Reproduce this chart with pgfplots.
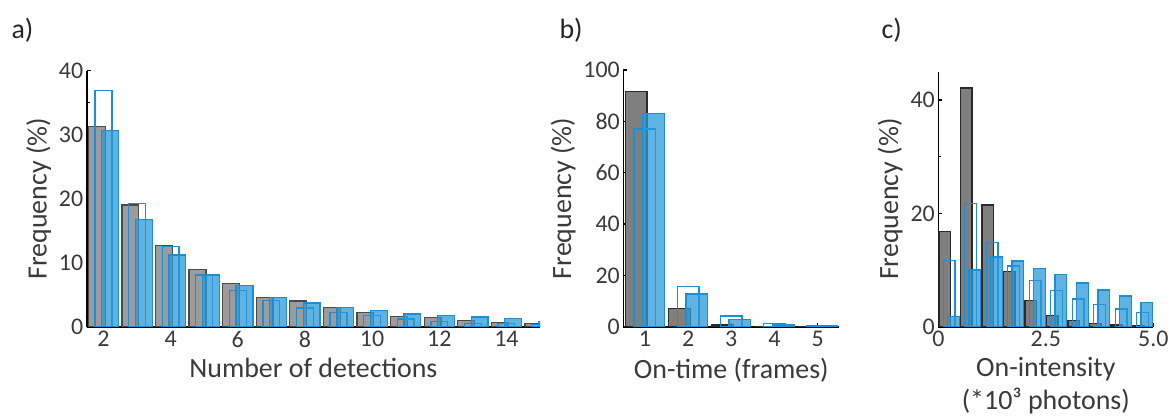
\documentclass[border=0pt]{standalone}
\usepackage{fontspec}
\setmainfont{Carlito}
\usepackage{pgfplots}
\usepackage{pgfplotstable}
\pgfplotsset{compat=1.18}

\definecolor{txt}{HTML}{3A3A3A}
\definecolor{grayA}{HTML}{9C9C9C}
\definecolor{grayB}{HTML}{7F7F7F}
\definecolor{edgeA}{HTML}{4A4A4A}
\definecolor{edgeB}{HTML}{2A2A2A}
\definecolor{blueE}{HTML}{1A8FD8}
\definecolor{blueF}{HTML}{2A9AD8}

% number of detections: gray, open blue, filled blue
\pgfplotstableread{
n  g     o     f
2  31.3  36.9  30.7
3  19.0  19.2  16.7
4  12.7  12.5  11.2
5  8.9   8.1   8.1
6  6.8   5.7   6.4
7  4.6   4.1   4.6
8  4.0   2.9   3.7
9  3.0   2.2   3.0
10 2.2   1.7   2.5
11 1.6   1.2   2.0
12 1.4   0.8   1.7
13 1.0   0.5   1.5
14 0.7   0.5   1.3
15 0.5   0.3   0.8
}\detections

% on-time in frames
\pgfplotstableread{
n  g     o     f
1  91.5  77.0  83.0
2  7.2   15.6  12.7
3  0.7   4.2   2.7
4  0.2   1.3   0.7
5  0.1   0.5   0.4
}\ontime

% on-intensity, bins of 500 photons
\pgfplotstableread{
n     g     o     f
0.25  16.8  11.7  1.8
0.75  42.1  21.8  10.0
1.25  21.5  14.8  12.3
1.75  9.8   10.7  11.6
2.25  4.6   8.2   10.3
2.75  2.0   6.35  9.2
3.25  1.1   4.9   7.7
3.75  0.6   3.9   6.5
4.25  0.3   3.1   5.4
4.75  0.2   2.5   4.3
}\intensity

\pgfplotsset{
  panel/.style={
    scale only axis, anchor=south west,
    axis lines=left, axis line style={-, line width=1.6bp, black},
    enlargelimits=false, clip=true, ymin=0,
    tick align=inside, major tick length=4bp, minor tick length=3bp,
    every tick/.style={black, line width=1.3bp},
    tick label style={font=\fontsize{24}{26}\selectfont, text=txt},
    xticklabel style={yshift=-1bp},
    label style={font=\fontsize{28}{33}\selectfont, text=txt},
    xlabel style={yshift=-4bp},
    ylabel style={yshift=1bp},
    /pgf/number format/assume math mode=true,
    ylabel={Frequency (\%)},
  },
  gbar/.style={ybar, bar shift=0pt, bar width=#1, fill=grayB, draw=edgeB, line width=1.3bp},
  obar/.style={ybar, bar shift=0pt, bar width=#1, fill=none, draw=blueE, line width=1.3bp},
  fbar/.style={ybar, bar shift=0pt, bar width=#1, fill=blueF, fill opacity=0.75, draw=blueE, draw opacity=1, line width=1.3bp},
}

\begin{document}
\begin{tikzpicture}
\path[use as bounding box] (0bp,0bp) rectangle (1171bp,416bp);

% a) number of detections
\begin{axis}[panel, at={(86.7bp,89.3bp)}, width=453.3bp, height=256bp,
  xmin=1.5, xmax=15, ymax=40,
  xtick={2,4,...,14}, ytick={0,10,...,40}, minor tick num=1,
  xlabel={Number of detections}]
  \addplot[gbar=0.5, fill=grayA, draw=edgeA] table[x expr=\thisrow{n}-0.2, y=g] {\detections};
  \addplot[obar=0.5] table[x=n, y=o] {\detections};
  \addplot[fbar=0.5] table[x expr=\thisrow{n}+0.2, y=f] {\detections};
\end{axis}

% b) on-time
\begin{axis}[panel, at={(623.3bp,89.3bp)}, width=216bp, height=256.7bp,
  xmin=0.5, xmax=5.5, ymax=100,
  xtick={1,...,5}, ytick={0,20,...,100},
  xlabel={On-time (frames)}]
  \addplot[gbar=0.5] table[x expr=\thisrow{n}-0.2, y=g] {\ontime};
  \addplot[obar=0.5] table[x=n, y=o] {\ontime};
  \addplot[fbar=0.5] table[x expr=\thisrow{n}+0.2, y=f] {\ontime};
\end{axis}

% c) on-intensity
\begin{axis}[panel, at={(938.3bp,89.3bp)}, width=215bp, height=255bp,
  xmin=0, xmax=5, ymax=45,
  xtick={0,2.5,5}, xticklabels={0,2.5,5.0},
  ytick={0,20,40}, minor ytick={10,30},
  xlabel={On-intensity\\(*10³ photons)}, xlabel style={align=center}]
  \addplot[gbar=0.27] table[x expr=\thisrow{n}-0.1, y=g] {\intensity};
  \addplot[obar=0.27] table[x=n, y=o] {\intensity};
  \addplot[fbar=0.27] table[x expr=\thisrow{n}+0.1, y=f] {\intensity};
\end{axis}

\node[anchor=west, font=\fontsize{28}{30}\selectfont, text=black!85] at (8bp,386bp) {a)};
\node[anchor=west, font=\fontsize{28}{30}\selectfont, text=black!85] at (556bp,386bp) {b)};
\node[anchor=west, font=\fontsize{28}{30}\selectfont, text=black!85] at (878bp,386bp) {c)};
\end{tikzpicture}
\end{document}
